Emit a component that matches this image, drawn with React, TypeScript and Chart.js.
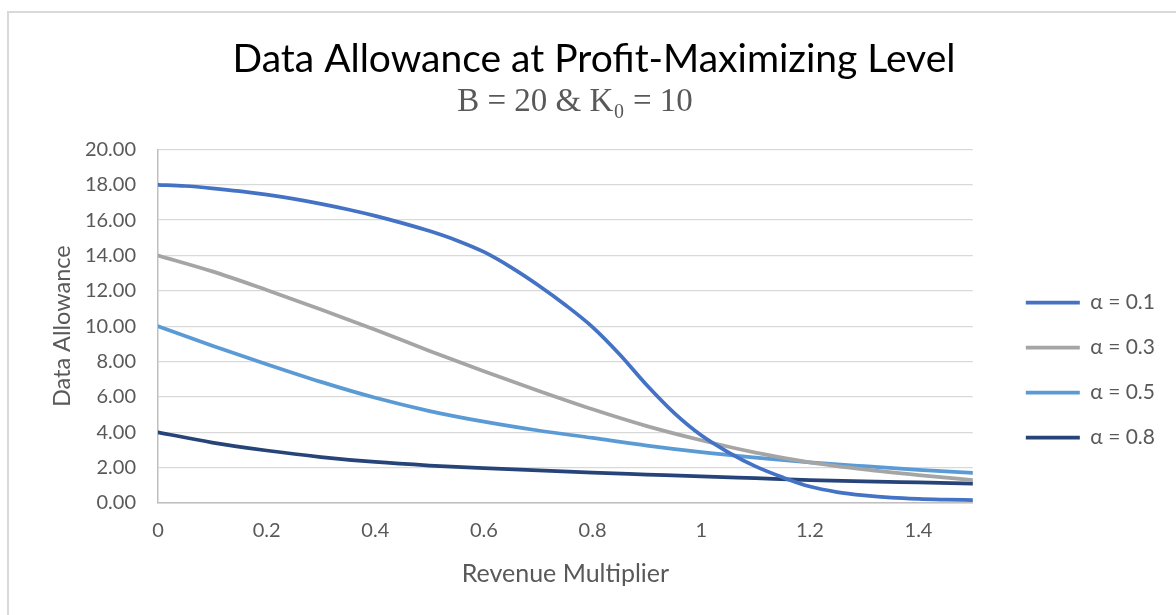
import React, { useEffect, useRef } from 'react';
import { Chart, registerables } from 'chart.js';

Chart.register(...registerables);

// Revenue multiplier sample points
const revenueMultiplierFine = [0, 0.05, 0.1, 0.15, 0.2, 0.25, 0.3, 0.35, 0.4, 0.45, 0.5, 0.55, 0.6, 0.65, 0.7, 0.75, 0.8, 0.85, 0.9, 0.95, 1.0, 1.05, 1.1, 1.15, 1.2, 1.25, 1.3, 1.35, 1.4, 1.45, 1.5];
const revenueMultiplier = [0, 0.1, 0.2, 0.3, 0.4, 0.5, 0.6, 0.7, 0.8, 0.9, 1.0, 1.1, 1.2, 1.3, 1.4, 1.5];

// Data allowance series
const alpha01 = [18.0, 17.93, 17.8, 17.64, 17.44, 17.2, 16.92, 16.6, 16.24, 15.83, 15.38, 14.85, 14.2, 13.33, 12.32, 11.2, 9.95, 8.4, 6.66, 5.1, 3.83, 2.87, 2.07, 1.45, 0.93, 0.62, 0.43, 0.3, 0.23, 0.19, 0.16];
const alpha03 = [14.0, 13.1, 12.05, 10.95, 9.8, 8.6, 7.45, 6.35, 5.3, 4.35, 3.55, 2.85, 2.3, 1.9, 1.58, 1.3];
const alpha05 = [10.0, 8.9, 7.85, 6.85, 5.95, 5.2, 4.6, 4.1, 3.68, 3.25, 2.88, 2.57, 2.3, 2.08, 1.88, 1.7];
const alpha08 = [4.0, 3.42, 2.97, 2.6, 2.32, 2.12, 1.97, 1.84, 1.72, 1.61, 1.5, 1.4, 1.3, 1.22, 1.16, 1.1];

const seriesLabels = ['α = 0.1', 'α = 0.3', 'α = 0.5', 'α = 0.8'];
const seriesColors = ['#4472C4', '#A5A5A5', '#5B9BD5', '#264478'];

const titleText = 'Data Allowance at Profit-Maximizing Level';
const subtitleText = 'B = 20 & K\u2080 = 10';
const xAxisTitle = 'Revenue Multiplier';
const yAxisTitle = 'Data Allowance';

const SANS = "Lato, 'Noto Sans', 'DejaVu Sans', sans-serif";
const SERIF = "'Liberation Serif', 'DejaVu Serif', serif";
const TEXT_GRAY = '#595959';

const toPoints = (xs: number[], ys: number[]) => ys.map((y, i) => ({ x: xs[i], y }));

// Moves the legend and the title blocks to where the original chart has them
const boxShift = {
  id: 'boxShift',
  afterLayout(chart: any) {
    const l = chart.legend;
    if (l) {
      const dx = chart.chartArea.right + 29 - l.left;
      const dy = 44;
      l.left += dx;
      l.right += dx;
      l.top += dy;
      l.bottom += dy;
    }
    for (const b of chart.boxes) {
      const t = b && b.options && b.options.text;
      let target: number | null = null;
      if (t === titleText) target = chart.width / 2 + 6;
      if (t === subtitleText) target = chart.width / 2 - 13;
      if (target !== null) {
        const dx = target - (b.left + b.right) / 2;
        b.left += dx;
        b.right += dx;
      }
    }
  },
};

export default function App() {
  const canvasRef = useRef<HTMLCanvasElement | null>(null);

  useEffect(() => {
    if (!canvasRef.current) return;
    const datasets = [
      toPoints(revenueMultiplierFine, alpha01),
      toPoints(revenueMultiplier, alpha03),
      toPoints(revenueMultiplier, alpha05),
      toPoints(revenueMultiplier, alpha08),
    ].map((data, i) => ({
      label: seriesLabels[i],
      data,
      borderColor: seriesColors[i],
      backgroundColor: seriesColors[i],
      borderWidth: 3.75,
      borderCapStyle: 'round' as const,
      borderJoinStyle: 'round' as const,
      pointRadius: 0,
      pointHoverRadius: 0,
      pointStyle: 'line' as const,
      cubicInterpolationMode: 'monotone' as const,
      fill: false,
    }));

    const chart = new Chart(canvasRef.current, {
      type: 'line',
      data: { datasets },
      plugins: [boxShift],
      options: {
        animation: false,
        responsive: true,
        maintainAspectRatio: false,
        layout: { padding: { top: 0, left: 0, right: 40, bottom: 0 } },
        plugins: {
          tooltip: { enabled: false },
          title: {
            display: true,
            text: titleText,
            color: '#000000',
            font: { family: SANS, size: 39, weight: 'normal' },
            padding: { top: 36, bottom: 0 },
          },
          subtitle: {
            display: true,
            text: subtitleText,
            color: TEXT_GRAY,
            font: { family: SERIF, size: 33, weight: 'normal' },
            padding: { top: 0, bottom: 27 },
          },
          legend: {
            display: true,
            position: 'right',
            fullSize: false,
            align: 'center',
            labels: {
              usePointStyle: true,
              pointStyleWidth: 54,
              color: TEXT_GRAY,
              font: { family: SANS, size: 21 },
              padding: 24,
            },
          },
        },
        scales: {
          x: {
            type: 'linear',
            min: 0,
            max: 1.5,
            afterFit: (scale: any) => {
              scale.height = 112;
            },
            ticks: {
              stepSize: 0.2,
              includeBounds: false,
              padding: 16,
              color: TEXT_GRAY,
              font: { family: SANS, size: 20 },
              maxRotation: 0,
              callback: (v: any) => String(Number(Number(v).toFixed(1))),
            },
            grid: { display: false, drawTicks: false },
            border: { display: true, color: '#BFBFBF', width: 1.5 },
            title: {
              display: true,
              text: xAxisTitle,
              color: TEXT_GRAY,
              font: { family: SANS, size: 25 },
              padding: { top: 0, bottom: 26 },
            },
          },
          y: {
            type: 'linear',
            min: 0,
            max: 20,
            afterFit: (scale: any) => {
              scale.width = 158;
            },
            ticks: {
              stepSize: 2,
              padding: 22,
              color: TEXT_GRAY,
              font: { family: SANS, size: 20 },
              callback: (v: any) => Number(v).toFixed(2),
            },
            grid: { color: '#D9D9D9', lineWidth: 1.3, drawTicks: false },
            border: { display: true, color: '#BFBFBF', width: 1.5 },
            title: {
              display: true,
              text: yAxisTitle,
              color: TEXT_GRAY,
              font: { family: SANS, size: 23.5 },
              padding: { top: 48, bottom: 0 },
            },
          },
        },
      },
    });
    return () => chart.destroy();
  }, []);

  return (
    <div style={{ position: 'fixed', left: 0, top: 0, width: 1176, height: 615, overflow: 'hidden', background: '#ffffff' }}>
      <div
        style={{
          position: 'absolute',
          left: 7,
          top: 11,
          width: 1300,
          height: 700,
          borderLeft: '2px solid #D9D9D9',
          borderTop: '2px solid #D9D9D9',
        }}
      />
      <div style={{ position: 'absolute', left: 0, top: 0, width: 1176, height: 615 }}>
        <canvas ref={canvasRef} />
      </div>
    </div>
  );
}
